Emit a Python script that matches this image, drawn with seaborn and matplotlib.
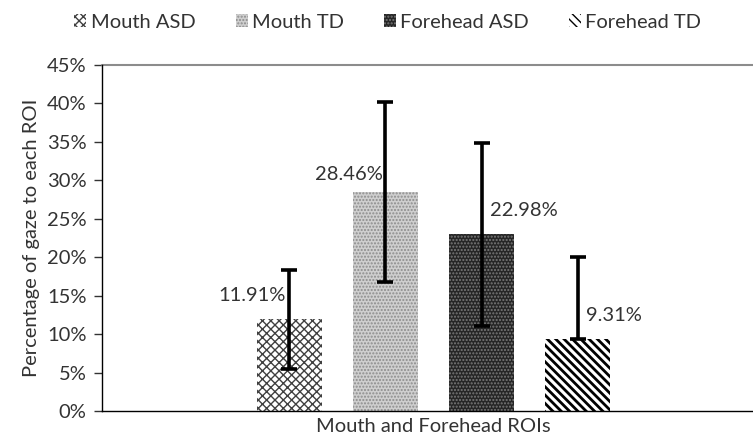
import matplotlib
matplotlib.use("Agg")
import matplotlib.pyplot as plt
import seaborn as sns
import pandas as pd
from matplotlib.patches import Patch

# Gaze data per region of interest (percent)
groups = ["Mouth ASD", "Mouth TD", "Forehead ASD", "Forehead TD"]
means = [11.91, 28.46, 22.98, 9.31]
err_lower = [6.4, 11.7, 11.9, 0.0]
err_upper = [6.4, 11.7, 11.9, 10.7]
category = "Mouth and Forehead ROIs"
yticks = [0, 5, 10, 15, 20, 25, 30, 35, 40, 45]

df = pd.DataFrame({"roi": [category] * len(groups), "group": groups, "pct": means})

sns.set_theme(style="white")
plt.rcParams["font.family"] = ["Lato", "DejaVu Sans"]
plt.rcParams["hatch.linewidth"] = 1.0

FS = 14.5
TXT = "#333333"

fig = plt.figure(figsize=(7.53, 4.47), dpi=100)
ax = fig.add_axes([102 / 753, 1 - 411 / 447, 651 / 753, 346 / 447])

sns.barplot(data=df, x="roi", y="pct", hue="group", hue_order=groups,
            width=0.58, gap=0.32, legend=False, ax=ax, errorbar=None)

styles = [
    dict(facecolor="white", edgecolor="#404040", hatch="xxxx"),
    dict(facecolor="#cfcfcf", edgecolor="#8c8c8c", hatch="....."),
    dict(facecolor="#262626", edgecolor="#7a7a7a", hatch="....."),
    dict(facecolor="white", edgecolor="black", hatch="\\\\\\\\"),
]
bars = ax.patches[:len(groups)]
for bar, st in zip(bars, styles):
    bar.set_facecolor(st["facecolor"])
    bar.set_edgecolor(st["edgecolor"])
    bar.set_hatch(st["hatch"])
    bar.set_linewidth(0)
if hasattr(bars[3], "set_hatch_linewidth"):
    bars[3].set_hatch_linewidth(2.0)

xs = [b.get_x() + b.get_width() / 2 for b in bars]
ax.errorbar(xs, means, yerr=[err_lower, err_upper], fmt="none", ecolor="black",
            elinewidth=2.6, capsize=6, capthick=2.6, zorder=5)

# value labels: left of the error bar for mouth, right of it for forehead
placements = [("right", -4, 24), ("right", -3, 18), ("left", 8, 24), ("left", 8, 24)]
for x, v, (ha, dx, dy) in zip(xs, means, placements):
    ax.annotate(f"{v:.2f}%", (x, v), xytext=(dx, dy), textcoords="offset pixels",
                ha=ha, va="center", fontsize=FS, color=TXT, zorder=6)

ax.set_ylim(0, 45)
ax.set_xlim(-0.5, 0.482)
ax.set_yticks(yticks)
ax.set_yticklabels([f"{t}%" for t in yticks], fontsize=FS, color=TXT)
ax.tick_params(axis="y", direction="out", length=6, width=1, color="#333333", left=True, pad=5)
ax.tick_params(axis="x", length=0, labelsize=FS, labelcolor=TXT, pad=5)
ax.set_xlabel("")
ax.set_ylabel("Percentage of gaze to each ROI", fontsize=FS, color=TXT, labelpad=5)

ax.axhline(45, color="#8c8c8c", lw=1.5, zorder=1, clip_on=False)
for s in ["top", "right"]:
    ax.spines[s].set_visible(False)
ax.spines["left"].set_color("black")
ax.spines["left"].set_linewidth(1)
ax.spines["bottom"].set_color("black")
ax.spines["bottom"].set_linewidth(1)

handles = [Patch(facecolor=st["facecolor"], edgecolor=st["edgecolor"], hatch=st["hatch"], linewidth=0)
           for st in styles]
fig.legend(handles, groups, loc="upper center", bbox_to_anchor=(0.515, 1.01), ncol=4,
           frameon=False, fontsize=FS, handlelength=0.6, handleheight=0.6,
           handletextpad=0.2, columnspacing=2.0, labelcolor=TXT)

fig.savefig("out.png", dpi=100)
